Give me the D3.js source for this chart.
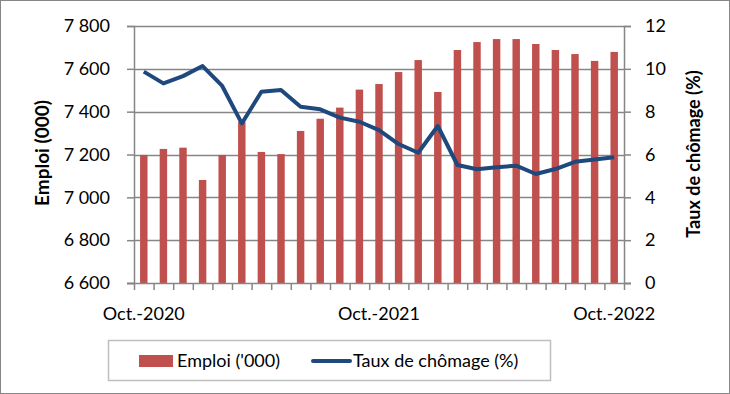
<!DOCTYPE html>
<html><head><meta charset="utf-8">
<script src="https://cdn.jsdelivr.net/npm/d3@7"></script>
<style>body{margin:0;background:#fff}svg{display:block}text{font-family:Lato,"Open Sans",sans-serif}</style>
</head><body><svg id="c" width="730" height="394"></svg>
<script>
const months = ["2020-10","2020-11","2020-12","2021-01","2021-02","2021-03","2021-04","2021-05","2021-06","2021-07","2021-08","2021-09","2021-10","2021-11","2021-12","2022-01","2022-02","2022-03","2022-04","2022-05","2022-06","2022-07","2022-08","2022-09","2022-10"];
const emploi = [7198,7226,7232,7081,7198,7353,7212,7202,7310,7367,7419,7503,7529,7585,7641,7492,7688,7725,7739,7739,7716,7688,7669,7637,7679];
const chomage = [9.87,9.32,9.66,10.13,9.2,7.45,8.93,9.01,8.23,8.11,7.72,7.53,7.14,6.49,6.08,7.33,5.51,5.31,5.40,5.48,5.09,5.32,5.66,5.77,5.87];
const xLabels = {"2020-10":"Oct.-2020","2021-10":"Oct.-2021","2022-10":"Oct.-2022"};
const leftTicks = [6600,6800,7000,7200,7400,7600,7800];
const rightTicks = [0,2,4,6,8,10,12];

const svg = d3.select("#c");
const L=134,R=624,T=26,B=283;
const grey="#868686";
const FS=18;
svg.append("rect").attr("x",0.5).attr("y",0.5).attr("width",729).attr("height",393).attr("fill","#fff").attr("stroke",grey);

const x = d3.scaleBand().domain(months).range([L,R]).paddingInner(0.62).paddingOuter(0.31);
const yL = d3.scaleLinear().domain([6600,7800]).range([B,T]);
const yR = d3.scaleLinear().domain([0,12]).range([B,T]);
const fmt = d => d3.format(",")(d).replace(",", " ");

// grid
svg.append("g").selectAll("line").data(leftTicks.slice(1)).join("line")
  .attr("x1",L).attr("x2",R).attr("y1",d=>Math.round(yL(d))+0.5).attr("y2",d=>Math.round(yL(d))+0.5)
  .attr("stroke",grey).attr("stroke-width",1.5);

// bars
svg.append("g").selectAll("rect").data(emploi).join("rect")
  .attr("x",(d,i)=>x(months[i])).attr("width",x.bandwidth())
  .attr("y",d=>yL(d)).attr("height",d=>B-yL(d)).attr("fill","#C0504D");

// axes
const gl = svg.append("g").attr("transform",`translate(${L},0)`)
  .call(d3.axisLeft(yL).tickValues(leftTicks).tickFormat(fmt).tickSize(7).tickPadding(17));
const gr = svg.append("g").attr("transform",`translate(${R},0)`)
  .call(d3.axisRight(yR).tickValues(rightTicks).tickSize(7).tickPadding(14));
const bounds = d3.range(months.length+1).map(i=>L + i*(R-L)/months.length);
const gx = svg.append("g").attr("transform",`translate(0,${B})`)
  .call(d3.axisBottom(d3.scaleLinear().domain([L,R]).range([L,R])).tickValues(bounds).tickSize(7).tickFormat(""));
[gl,gr,gx].forEach(g=>{g.selectAll("path.domain").attr("stroke",grey).attr("stroke-width",1.5);
  g.selectAll(".tick line").attr("stroke",grey).attr("stroke-width",1.5);
  g.selectAll("text").attr("font-family","Lato").attr("font-size",FS).attr("fill","#000");});
gx.select("path.domain").remove();
svg.append("line").attr("x1",L-7).attr("x2",R+7).attr("y1",B+0.5).attr("y2",B+0.5).attr("stroke",grey).attr("stroke-width",1.5);

// x labels
svg.append("g").selectAll("text").data(months.filter(m=>xLabels[m])).join("text")
  .attr("x",m=>x(m)+x.bandwidth()/2).attr("y",320).attr("text-anchor","middle")
  .attr("font-size",FS).text(m=>xLabels[m]);

// line
svg.append("path").datum(chomage)
  .attr("d",d3.line().x((d,i)=>x(months[i])+x.bandwidth()/2).y(d=>yR(d)))
  .attr("fill","none").attr("stroke","#1F497D").attr("stroke-width",4).attr("stroke-linejoin","round");

// axis titles
svg.append("text").attr("transform","translate(49,153) rotate(-90)").attr("text-anchor","middle")
  .attr("font-weight","bold").attr("font-size",19).text("Emploi (000)");
svg.append("text").attr("transform","translate(700,154) rotate(-90)").attr("text-anchor","middle")
  .attr("font-weight","bold").attr("font-size",18).text("Taux de chômage (%)");

// legend
svg.append("rect").attr("x",108.5).attr("y",340.5).attr("width",442).attr("height",40).attr("fill","#fff").attr("stroke","#bfbfbf").attr("stroke-width",1.5);
svg.append("rect").attr("x",139).attr("y",355).attr("width",34).attr("height",12).attr("fill","#C0504D");
svg.append("text").attr("x",177).attr("y",367).attr("font-size",FS).text("Emploi ('000)");
svg.append("line").attr("x1",313).attr("x2",350).attr("y1",361).attr("y2",361).attr("stroke","#1F497D").attr("stroke-width",4).attr("stroke-linecap","round");
svg.append("text").attr("x",353).attr("y",367).attr("font-size",FS).text("Taux de chômage (%)");
</script></body></html>
